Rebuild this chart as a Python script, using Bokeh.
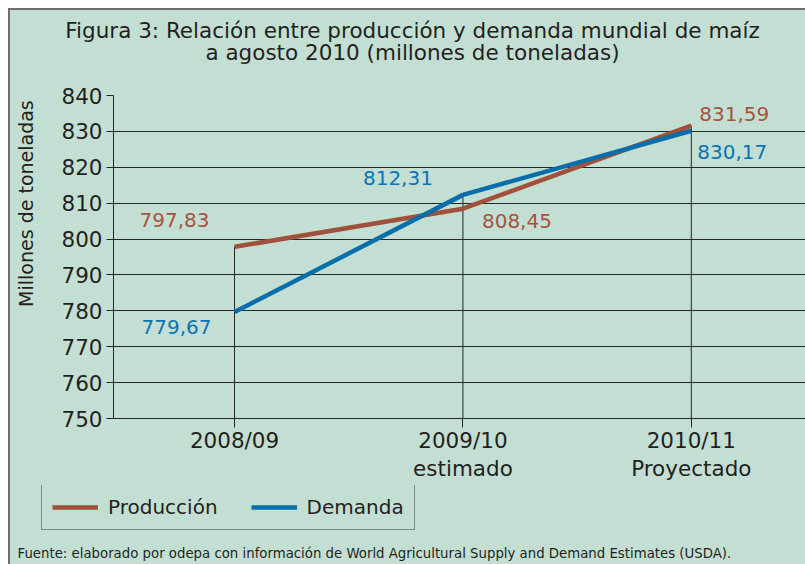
import math
from bokeh.plotting import figure
from bokeh.layouts import column, row
from bokeh.models import (Range1d, FixedTicker, LinearAxis, Legend, LegendItem,
                          Label, ColumnDataSource)
from bokeh.core.properties import value
from bokeh.embed import file_html
from bokeh.resources import INLINE

# ---------------- data ----------------
categories = ["2008/09", "2009/10", "2010/11"]
category_notes = ["", "estimado", "Proyectado"]
produccion = [797.83, 808.45, 831.59]
demanda = [779.67, 812.31, 830.17]
y_ticks = [750, 760, 770, 780, 790, 800, 810, 820, 830, 840]
title_lines = ["Figura 3: Relación entre producción y demanda mundial de maíz",
               "a agosto 2010 (millones de toneladas)"]
y_title = "Millones de toneladas"
series_names = ["Producción", "Demanda"]
source_note = ("Fuente: elaborado por odepa con información de World Agricultural "
               "Supply and Demand Estimates (USDA).")

# ---------------- style ----------------
GREEN = "#c3dfd3"
BROWN = "#a0503b"
BLUE = "#0a6eab"
BROWN_TXT = "#a5533f"
BLUE_TXT = "#0b73b5"
INK = "#231f20"
GRID = "#262626"
FONT = "DejaVu Sans"
W = 795
TOP_H, MAIN_H, BOT_H, LEFT_W = 70, 405, 79, 30
# label offsets (pixels) for the value labels
prod_dx, prod_dy = [-60, 54, 43], [-27, 12, -12]
dem_dx, dem_dy = [-58, -65, 41], [15, -17, 21]


def fmt(v):
    return f"{v:.2f}".replace(".", ",")


def blank(w, h):
    f = figure(width=w, height=h, x_range=Range1d(0, w), y_range=Range1d(0, h),
               output_backend="svg", toolbar_location=None,
               x_axis_location=None, y_axis_location=None,
               min_border=0, min_border_left=0, min_border_right=0,
               min_border_top=0, min_border_bottom=0,
               background_fill_color=GREEN, border_fill_color=GREEN,
               outline_line_color=None)
    f.grid.visible = False
    return f


xs = list(range(len(categories)))

# ---------------- title strip ----------------
top = blank(W, TOP_H)
top.add_layout(Label(x=402, y=50.5, text=title_lines[0], text_align="center",
                     text_baseline="alphabetic", text_font=FONT,
                     text_font_size="21.5px", text_color=INK))
top.add_layout(Label(x=402, y=28, text=title_lines[1], text_align="center",
                     text_baseline="alphabetic", text_font=FONT,
                     text_font_size="21.5px", text_color=INK))

# ---------------- y-title strip ----------------
left = blank(LEFT_W, MAIN_H)
left.add_layout(Label(x=15.5, y=MAIN_H - 135.5, text=y_title, angle=math.pi / 2,
                      text_align="center", text_baseline="middle", text_font=FONT,
                      text_font_size="19px", text_color=INK))

# ---------------- main chart ----------------
p = figure(width=W - LEFT_W, height=MAIN_H,
           x_range=Range1d(-0.53, 2.5), y_range=Range1d(y_ticks[0], y_ticks[-1]),
           output_backend="svg", toolbar_location=None,
           min_border_left=73, min_border_right=0, min_border_top=15, min_border_bottom=67,
           background_fill_color=GREEN, border_fill_color=GREEN,
           outline_line_color=None)

p.xgrid.visible = False
p.ygrid.ticker = FixedTicker(ticks=y_ticks)
p.ygrid.grid_line_color = GRID
p.ygrid.grid_line_width = 1

p.yaxis.ticker = FixedTicker(ticks=y_ticks)
p.yaxis.axis_line_color = GRID
p.yaxis.major_tick_line_color = GRID
p.yaxis.major_tick_out = 7
p.yaxis.major_tick_in = 0
p.yaxis.minor_tick_line_color = None
p.yaxis.major_label_standoff = 4
p.yaxis.major_label_text_font = FONT
p.yaxis.major_label_text_font_size = "21.5px"
p.yaxis.major_label_text_color = INK

p.xaxis.ticker = FixedTicker(ticks=xs)
p.xaxis.major_label_overrides = {i: c for i, c in enumerate(categories)}
p.xaxis.axis_line_color = GRID
p.xaxis.major_tick_line_color = GRID
p.xaxis.major_tick_out = 9
p.xaxis.major_tick_in = 0
p.xaxis.minor_tick_line_color = None
p.xaxis.major_label_standoff = 0
p.xaxis.major_label_text_font = FONT
p.xaxis.major_label_text_font_size = "21.5px"
p.xaxis.major_label_text_color = INK

ax2 = LinearAxis(ticker=FixedTicker(ticks=xs),
                 major_label_overrides={i: c for i, c in enumerate(category_notes)},
                 axis_line_color=None, major_tick_line_color=None,
                 minor_tick_line_color=None, major_tick_out=0, major_tick_in=0,
                 major_label_standoff=0,
                 major_label_text_font=FONT, major_label_text_font_size="21.5px",
                 major_label_text_color=INK)
p.add_layout(ax2, "below")

tops = [max(a, b) for a, b in zip(produccion, demanda)]
p.segment(x0=xs, y0=[y_ticks[0]] * len(xs), x1=xs, y1=tops,
          line_color=GRID, line_width=1)

p.line(xs, produccion, line_color=BROWN, line_width=4.5)
p.line(xs, demanda, line_color=BLUE, line_width=4.5)

src_p = ColumnDataSource(dict(x=xs, y=produccion, t=[fmt(v) for v in produccion],
                              dx=prod_dx, dy=prod_dy))
src_d = ColumnDataSource(dict(x=xs, y=demanda, t=[fmt(v) for v in demanda],
                              dx=dem_dx, dy=dem_dy))
for src, col in ((src_p, BROWN_TXT), (src_d, BLUE_TXT)):
    p.text(x="x", y="y", text="t", x_offset="dx", y_offset="dy", source=src,
           text_color=col, text_font=value(FONT), text_font_size="20px",
           text_align="center", text_baseline="middle")

# ---------------- legend + footer strip ----------------
bot = blank(W, BOT_H)
# the same series drawn again here (they fall outside this strip's range, so
# only their legend swatches show)
lp = bot.line(xs, produccion, line_color=BROWN, line_width=4.5)
ld = bot.line(xs, demanda, line_color=BLUE, line_width=4.5)
legend = Legend(items=[LegendItem(label=series_names[0], renderers=[lp]),
                       LegendItem(label=series_names[1], renderers=[ld])],
                location=(31, 34), orientation="horizontal",
                glyph_width=46, glyph_height=20, label_height=20,
                label_standoff=10, spacing=33, padding=10, margin=0,
                border_line_color="#333333", border_line_width=1,
                background_fill_alpha=0,
                label_text_font=FONT, label_text_font_size="20px",
                label_text_color=INK)
bot.add_layout(legend)
bot.add_layout(Label(x=7, y=11, text=source_note, text_align="left",
                     text_baseline="alphabetic", text_font=FONT,
                     text_font_size="13.3px", text_color=INK))

layout = column(top, row(left, p), bot,
                styles={"margin": "8px 0 0 8px", "background-color": GREEN,
                        "border-left": "2px solid #707070",
                        "border-top": "2px solid #707070"})

open("out.html", "w").write(file_html(layout, INLINE))
